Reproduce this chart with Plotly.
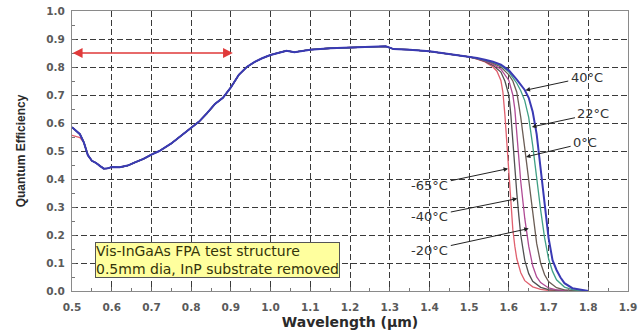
import plotly.graph_objects as go

# ---- data ----
wl_common = [0.53, 0.54, 0.55, 0.56, 0.57, 0.58, 0.59, 0.60, 0.62, 0.64, 0.66, 0.68, 0.70,
             0.72, 0.75, 0.78, 0.80, 0.82, 0.84, 0.86, 0.88, 0.90, 0.92, 0.94, 0.96, 0.98,
             1.00, 1.02, 1.04, 1.06, 1.08, 1.10, 1.15, 1.20, 1.25, 1.29, 1.31, 1.35, 1.40,
             1.45, 1.50]
qe_common = [0.530, 0.485, 0.465, 0.458, 0.447, 0.437, 0.438, 0.443, 0.442, 0.448, 0.460,
             0.472, 0.487, 0.500, 0.527, 0.560, 0.585, 0.605, 0.635, 0.668, 0.690, 0.727,
             0.772, 0.800, 0.818, 0.832, 0.843, 0.851, 0.858, 0.853, 0.858, 0.862, 0.867,
             0.870, 0.871, 0.874, 0.864, 0.862, 0.856, 0.847, 0.836]

start_x = [0.50, 0.51, 0.52]
start_m65 = [0.556, 0.553, 0.548]
start_std = [0.585, 0.572, 0.560]

wl_m65 = [1.52, 1.54, 1.56, 1.57, 1.58, 1.585, 1.59, 1.595, 1.60, 1.605, 1.61, 1.615, 1.62,
          1.63, 1.64, 1.66, 1.68, 1.70, 1.73]
qe_m65 = [0.828, 0.818, 0.800, 0.785, 0.752, 0.71, 0.63, 0.52, 0.42, 0.31, 0.22, 0.16, 0.115,
          0.065, 0.037, 0.015, 0.006, 0.002, 0.0]

wl_m40 = [1.52, 1.54, 1.56, 1.58, 1.59, 1.60, 1.605, 1.61, 1.615, 1.62, 1.625, 1.63, 1.64,
          1.65, 1.66, 1.68, 1.70, 1.75]
qe_m40 = [0.829, 0.820, 0.806, 0.782, 0.750, 0.700, 0.630, 0.530, 0.440, 0.350, 0.270, 0.200,
          0.110, 0.062, 0.035, 0.013, 0.005, 0.0]

wl_m20 = [1.52, 1.54, 1.56, 1.58, 1.60, 1.61, 1.615, 1.62, 1.625, 1.63, 1.64, 1.65, 1.66,
          1.67, 1.68, 1.70, 1.72, 1.77]
qe_m20 = [0.830, 0.822, 0.810, 0.792, 0.752, 0.700, 0.650, 0.560, 0.470, 0.390, 0.260, 0.160,
          0.090, 0.050, 0.030, 0.011, 0.004, 0.0]

wl_0 = [1.52, 1.54, 1.56, 1.58, 1.60, 1.61, 1.62, 1.63, 1.64, 1.65, 1.66, 1.67, 1.68, 1.69,
        1.70, 1.72, 1.74, 1.78]
qe_0 = [0.831, 0.824, 0.814, 0.800, 0.772, 0.750, 0.710, 0.620, 0.510, 0.390, 0.270, 0.170,
        0.100, 0.058, 0.034, 0.012, 0.004, 0.0]

wl_22 = [1.52, 1.54, 1.56, 1.58, 1.60, 1.62, 1.63, 1.64, 1.65, 1.66, 1.67, 1.68, 1.69, 1.70,
         1.71, 1.72, 1.74, 1.76, 1.79]
qe_22 = [0.831, 0.825, 0.817, 0.805, 0.782, 0.742, 0.715, 0.680, 0.620, 0.520, 0.400, 0.290,
         0.190, 0.115, 0.070, 0.040, 0.014, 0.005, 0.0]

wl_40 = [1.52, 1.54, 1.56, 1.58, 1.60, 1.62, 1.64, 1.65, 1.66, 1.67, 1.68, 1.69, 1.70, 1.71,
         1.72, 1.73, 1.74, 1.76, 1.78, 1.80]
qe_40 = [0.832, 0.826, 0.819, 0.808, 0.788, 0.755, 0.718, 0.690, 0.640, 0.560, 0.440, 0.320,
         0.190, 0.110, 0.075, 0.048, 0.028, 0.010, 0.004, 0.0]

temp_labels = ["-65 \u00b0C", "-40 \u00b0C", "-20 \u00b0C", "0 \u00b0C", "22 \u00b0C", "40 \u00b0C"]
line_colors = ["#e0606e", "#505050", "#b04a95", "#6b5d55", "#40a085", "#3a3ab4"]

x_ticks = [0.5, 0.6, 0.7, 0.8, 0.9, 1.0, 1.1, 1.2, 1.3, 1.4, 1.5, 1.6, 1.7, 1.8, 1.9]
y_ticks = [0.0, 0.1, 0.2, 0.3, 0.4, 0.5, 0.6, 0.7, 0.8, 0.9, 1.0]

series = [
    (start_x + wl_common + wl_m65, start_m65 + qe_common + qe_m65),
    (start_x + wl_common + wl_m40, start_std + qe_common + qe_m40),
    (start_x + wl_common + wl_m20, start_std + qe_common + qe_m20),
    (start_x + wl_common + wl_0, start_std + qe_common + qe_0),
    (start_x + wl_common + wl_22, start_std + qe_common + qe_22),
    (start_x + wl_common + wl_40, start_std + qe_common + qe_40),
]

fig = go.Figure()
for i, (xs, ys) in enumerate(series):
    fig.add_trace(go.Scatter(x=xs, y=ys, mode="lines", name=temp_labels[i],
                             line=dict(color=line_colors[i], width=2 if i == 5 else 1.3),
                             showlegend=False))

# label annotations: (text, text_x, text_y, tip_x, tip_y)
label_pos = [
    ("40\u00b0C", 1.796, 0.764, 1.642, 0.717),
    ("22\u00b0C", 1.813, 0.633, 1.658, 0.586),
    ("0\u00b0C", 1.792, 0.529, 1.643, 0.479),
    ("-65\u00b0C", 1.401, 0.378, 1.598, 0.437),
    ("-40\u00b0C", 1.401, 0.267, 1.621, 0.330),
    ("-20\u00b0C", 1.401, 0.146, 1.650, 0.223),
]
for txt, tx, ty, px, py in label_pos:
    fig.add_annotation(x=px, y=py, ax=tx, ay=ty, xref="x", yref="y", axref="x", ayref="y",
                       text=txt, showarrow=True, arrowhead=2, arrowsize=0.9, arrowwidth=1,
                       arrowcolor="#222222", standoff=0, startstandoff=1,
                       font=dict(family="DejaVu Sans", size=13, color="#333333"))

# red double arrow over the visible range
arrow_y = 0.85
fig.add_annotation(x=0.502, y=arrow_y, ax=0.71, ay=arrow_y, xref="x", yref="y", axref="x",
                   ayref="y", text="", showarrow=True, arrowhead=2, arrowsize=1.4,
                   arrowwidth=1.4, arrowcolor="#e03a3a")
fig.add_annotation(x=0.905, y=arrow_y, ax=0.70, ay=arrow_y, xref="x", yref="y", axref="x",
                   ayref="y", text="", showarrow=True, arrowhead=2, arrowsize=1.4,
                   arrowwidth=1.4, arrowcolor="#e03a3a")

# info box
fig.add_annotation(x=0.558, y=0.175, xref="x", yref="y", xanchor="left", yanchor="top",
                   text="Vis-InGaAs FPA test structure<br>0.5mm dia, InP substrate removed",
                   showarrow=False, align="left", bgcolor="#ffff9e", bordercolor="#555555",
                   borderwidth=1, borderpad=0,
                   font=dict(family="DejaVu Sans", size=14, color="#33330a"))

axis_common = dict(showline=True, linecolor="#8a8a8a", linewidth=1, mirror=True,
                   showgrid=True, gridcolor="#3a3a3a", gridwidth=1.2, griddash="6px,3px",
                   zeroline=False, ticks="inside", ticklen=4, tickcolor="#666666",
                   automargin=False,
                   tickfont=dict(family="DejaVu Sans", size=10.5, color="#5a5a5a",
                                 weight="bold"),
                   minor=dict(ticks="inside", ticklen=3, tickcolor="#777777", showgrid=False))

fig.update_xaxes(range=[0.5, 1.9], tickvals=x_ticks, ticktext=[f"{v:.1f}" for v in x_ticks],
                 minor_dtick=0.05, ticklabelstandoff=6,
                 title=dict(text="Wavelength (\u03bcm)", standoff=5,
                            font=dict(family="DejaVu Sans", size=14, color="#2a2a2a",
                                      weight="bold")),
                 **axis_common)
fig.update_yaxes(range=[0, 1.0], tickvals=y_ticks, ticktext=[f"{v:.1f}" for v in y_ticks],
                 minor_dtick=0.05, ticklabelstandoff=4,
                 title=dict(text="Quantum Efficiency", standoff=18,
                            font=dict(family="Liberation Sans, Arial", size=12, color="#2a2a2a",
                                      weight="bold")),
                 **axis_common)

fig.update_layout(width=639, height=334, margin=dict(l=72, r=11, t=10.5, b=43),
                  plot_bgcolor="white", paper_bgcolor="white", showlegend=False)

fig.write_html("out.html", config={"displayModeBar": False},
               post_script="document.body.style.margin='0';")
